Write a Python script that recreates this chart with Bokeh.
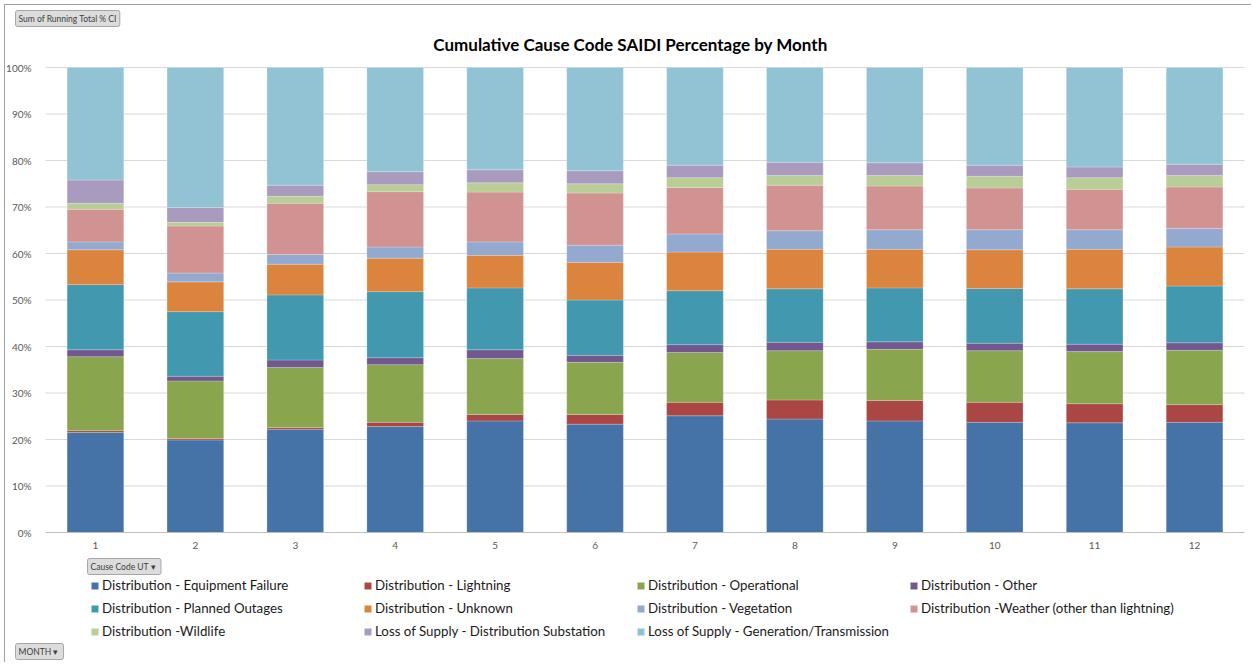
from bokeh.plotting import figure
from bokeh.models import (ColumnDataSource, Range1d, FixedTicker, PrintfTickFormatter,
                          Legend, LegendItem, Label)
from bokeh.embed import file_html
from bokeh.resources import INLINE

# ---- data (percent of SAIDI per month) ----
months = [1, 2, 3, 4, 5, 6, 7, 8, 9, 10, 11, 12]
month_labels = ["1", "2", "3", "4", "5", "6", "7", "8", "9", "10", "11", "12"]
y_ticks = [0, 10, 20, 30, 40, 50, 60, 70, 80, 90, 100]

equipment_failure = [21.5, 19.9, 22.2, 22.8, 24.0, 23.3, 25.1, 24.4, 24.0, 23.7, 23.6, 23.7]
lightning = [0.4, 0.3, 0.4, 0.9, 1.4, 2.1, 2.9, 4.1, 4.4, 4.3, 4.1, 3.8]
operational = [15.9, 12.4, 12.9, 12.4, 12.0, 11.2, 10.7, 10.6, 11.0, 11.1, 11.2, 11.7]
other = [1.5, 1.0, 1.6, 1.5, 1.9, 1.5, 1.7, 1.8, 1.6, 1.6, 1.6, 1.6]
planned_outages = [14.0, 13.9, 14.0, 14.2, 13.3, 11.9, 11.6, 11.5, 11.6, 11.8, 11.9, 12.2]
unknown = [7.5, 6.4, 6.6, 7.2, 7.0, 8.1, 8.3, 8.5, 8.3, 8.3, 8.5, 8.4]
vegetation = [1.7, 1.9, 2.1, 2.4, 2.9, 3.7, 3.9, 4.0, 4.2, 4.3, 4.2, 4.0]
weather = [7.0, 10.1, 11.0, 11.9, 10.7, 11.2, 10.0, 9.8, 9.4, 9.0, 8.7, 8.9]
wildlife = [1.3, 0.8, 1.5, 1.5, 2.0, 2.0, 2.1, 2.1, 2.3, 2.5, 2.5, 2.5]
substation = [5.0, 3.2, 2.4, 2.8, 2.8, 2.8, 2.7, 2.8, 2.7, 2.4, 2.3, 2.4]
generation_transmission = [24.2, 30.1, 25.3, 22.4, 22.0, 22.2, 21.0, 20.4, 20.5, 21.0, 21.4, 20.8]

series_labels = [
    "Distribution - Equipment Failure",
    "Distribution - Lightning",
    "Distribution - Operational",
    "Distribution - Other",
    "Distribution - Planned Outages",
    "Distribution - Unknown",
    "Distribution - Vegetation",
    "Distribution -Weather (other than lightning)",
    "Distribution -Wildlife",
    "Loss of Supply - Distribution Substation",
    "Loss of Supply - Generation/Transmission",
]
series_values = [equipment_failure, lightning, operational, other, planned_outages,
                 unknown, vegetation, weather, wildlife, substation, generation_transmission]
colors = ["#4572A7", "#AA4643", "#89A54E", "#71588F", "#4198AF", "#DB843D",
          "#93A9CF", "#D19392", "#B9CD96", "#A99BBD", "#92C3D5"]

keys = ["s%d" % i for i in range(len(series_labels))]
data = {"month": months}
for k, v in zip(keys, series_values):
    data[k] = v
source = ColumnDataSource(data)

FONT = "Lato"

# ---- layout geometry (page pixels) ----
W, H = 1247, 658          # canvas size
ORIGIN = 5                # canvas offset on the page (4px margin + 1px border)
PLOT_L, PLOT_R = 45, 1244  # plot area left/right
Y0, Y100 = 532, 67         # page y of 0% and 100%

px_per_month = (PLOT_R - PLOT_L) / 12.0
px_per_pct = (Y0 - Y100) / 100.0
x_start = 0.5 - (PLOT_L - ORIGIN) / px_per_month
x_end = 12.5 + (ORIGIN + W - PLOT_R) / px_per_month
y_end = 100 + (Y100 - ORIGIN) / px_per_pct
y_start = -(ORIGIN + H - Y0) / px_per_pct


def sx(page_x):
    return page_x - ORIGIN


def sy(page_y):
    return H - (page_y - ORIGIN)


p = figure(width=W, height=H, output_backend="svg", toolbar_location=None,
           x_range=Range1d(x_start, x_end), y_range=Range1d(y_start, y_end),
           min_border=0)
p.min_border_left = 0
p.min_border_right = 0
p.min_border_top = 0
p.min_border_bottom = 0
p.outline_line_color = None
p.background_fill_color = "white"
p.border_fill_color = "white"
p.styles = {"margin-left": "4px", "margin-top": "4px",
            "border-top": "1px solid #a0a0a0", "border-left": "1px solid #a0a0a0"}
p.xgrid.grid_line_color = None
p.ygrid.grid_line_color = None

# horizontal gridlines across the plot area only
grid_y = [t for t in y_ticks if t > 0]
p.segment(x0=[0.5] * len(grid_y), x1=[12.5] * len(grid_y), y0=grid_y, y1=grid_y,
          line_color="#d9d9d9", line_width=1)

renderers = p.vbar_stack(keys, x="month", width=0.567, source=source, color=colors,
                         line_color="white", line_width=0.6, line_alpha=0.35)

# axes
p.xaxis.fixed_location = 0
p.xaxis.bounds = (0.5, 12.5)
p.xaxis.ticker = FixedTicker(ticks=months)
p.xaxis.major_label_overrides = {m: lab for m, lab in zip(months, month_labels)}
p.yaxis.fixed_location = 0.5
p.yaxis.bounds = (0, 100)
p.yaxis.ticker = FixedTicker(ticks=y_ticks)
p.yaxis.formatter = PrintfTickFormatter(format="%d%%")
for ax in (p.xaxis, p.yaxis):
    ax.major_tick_line_color = None
    ax.minor_tick_line_color = None
    ax.major_label_text_font = FONT
    ax.major_label_text_font_size = "10px"
    ax.major_label_text_color = "#595959"
p.yaxis.axis_line_color = None
p.yaxis.major_label_standoff = 8
p.xaxis.axis_line_color = "#bfbfbf"
p.xaxis.major_label_standoff = 3

# title
p.add_layout(Label(x=sx(630), y=sy(44), x_units="screen", y_units="screen",
                   text="Cumulative Cause Code SAIDI Percentage by Month",
                   text_font=FONT, text_font_size="17px", text_font_style="bold",
                   text_color="#000000", text_align="center", text_baseline="middle"))


def button(text, page_x, page_y):
    return Label(x=sx(page_x), y=sy(page_y), x_units="screen", y_units="screen",
                 text=text, text_font=FONT, text_font_size="8.5px", text_color="#404040",
                 text_baseline="middle", text_align="left",
                 background_fill_color="#dcdcdc", border_line_color="#a6a6a6",
                 border_line_width=1, padding=3, border_radius=2)


p.add_layout(button("Sum of Running Total % CI", 15, 18))
p.add_layout(button("Cause Code UT  \u25be", 87, 566))
p.add_layout(button("MONTH  \u25be", 15, 651))

# legend (4 columns, rows at page y 584 / 607 / 631)
items = [LegendItem(label=lab, renderers=[r]) for lab, r in zip(series_labels, renderers)]
legend = Legend(items=items, ncols=4, orientation="horizontal",
                location=(sx(90), sy(639)), padding=0, margin=0, spacing=7,
                glyph_width=9, glyph_height=9, label_standoff=3,
                label_width=254, label_height=16,
                label_text_font=FONT, label_text_font_size="13.3px",
                label_text_color="#1a1a1a",
                border_line_color=None, background_fill_alpha=0)
p.add_layout(legend, "center")

open("out.html", "w").write(file_html(p, INLINE))
